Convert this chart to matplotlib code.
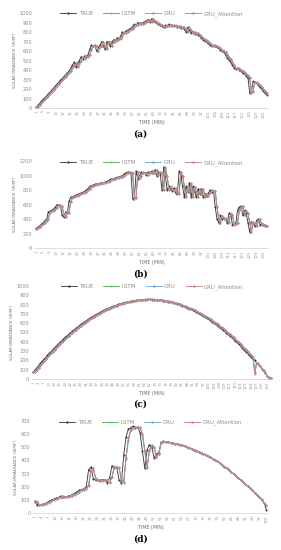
import numpy as np
import matplotlib
matplotlib.use("Agg")
import matplotlib.pyplot as plt

# ---- panel (a) ----
a_true = [10, 30, 50, 70, 90, 110, 130, 150, 170, 190,
          210, 230, 250, 270, 290, 310, 330, 350, 370, 390,
          420, 450, 480, 430, 470, 500, 540, 520, 550, 540,
          560, 620, 660, 650, 660, 600, 640, 660, 700, 650,
          620, 700, 690, 650, 700, 720, 710, 740, 730, 760,
          800, 790, 810, 820, 830, 840, 860, 880, 870, 900,
          890, 880, 900, 910, 920, 930, 910, 940, 920, 910,
          900, 880, 870, 860, 850, 870, 860, 880, 870, 860,
          870, 860, 850, 860, 840, 850, 830, 800, 850, 820,
          790, 800, 780, 790, 770, 760, 740, 720, 710, 700,
          680, 660, 650, 660, 650, 640, 630, 610, 600, 590,
          560, 530, 510, 480, 450, 420, 410, 420, 400, 390,
          370, 360, 340, 320, 160, 170, 280, 270, 260, 240,
          220, 200, 180, 160, 140]
a_lstm = [12, 15, 35, 55, 72, 92, 112, 132, 152, 172,
          192, 212, 232, 252, 272, 292, 312, 332, 352, 372,
          392, 418, 448, 470, 440, 472, 498, 535, 522, 548,
          542, 562, 615, 655, 648, 655, 605, 640, 655, 695,
          648, 625, 695, 688, 655, 698, 718, 712, 738, 732,
          758, 795, 790, 808, 818, 828, 838, 858, 876, 870,
          896, 888, 882, 898, 908, 918, 926, 912, 936, 918,
          908, 898, 880, 870, 860, 852, 868, 860, 876, 868,
          860, 868, 858, 850, 858, 842, 848, 830, 805, 846,
          820, 792, 798, 782, 788, 770, 758, 740, 722, 710,
          700, 680, 662, 652, 658, 650, 640, 630, 612, 600,
          590, 562, 532, 512, 482, 452, 424, 412, 418, 402,
          390, 372, 360, 342, 318, 170, 175, 275, 268, 258,
          238, 218, 198, 178, 160]
a_gru = [14, 18, 38, 58, 75, 95, 115, 135, 155, 175,
         195, 215, 235, 255, 275, 295, 315, 335, 355, 375,
         395, 420, 445, 472, 445, 468, 495, 532, 525, 545,
         545, 560, 612, 652, 650, 652, 610, 638, 652, 692,
         650, 628, 692, 690, 658, 695, 715, 714, 735, 735,
         755, 792, 792, 805, 815, 825, 835, 855, 874, 872,
         892, 890, 884, 895, 905, 915, 924, 914, 932, 920,
         910, 900, 882, 872, 862, 854, 865, 862, 874, 870,
         862, 866, 860, 852, 856, 844, 846, 832, 808, 842,
         822, 795, 796, 784, 786, 772, 760, 742, 724, 712,
         702, 682, 664, 654, 656, 651, 641, 631, 614, 602,
         592, 565, 535, 514, 485, 455, 426, 414, 416, 404,
         392, 374, 362, 344, 322, 175, 178, 272, 266, 256,
         240, 220, 200, 180, 162]
a_att = [10, 14, 32, 52, 71, 91, 111, 131, 151, 171,
         191, 211, 231, 251, 271, 291, 311, 331, 351, 371,
         391, 421, 450, 476, 435, 470, 500, 538, 520, 550,
         540, 561, 618, 658, 650, 658, 600, 642, 658, 698,
         650, 620, 698, 690, 652, 700, 720, 710, 740, 730,
         760, 798, 790, 810, 820, 830, 840, 860, 878, 870,
         898, 890, 880, 900, 910, 920, 928, 910, 938, 920,
         910, 900, 880, 870, 860, 850, 870, 860, 878, 870,
         860, 870, 860, 850, 860, 840, 850, 830, 800, 848,
         820, 790, 800, 780, 790, 770, 760, 740, 720, 710,
         700, 680, 660, 650, 660, 650, 640, 630, 610, 600,
         590, 560, 530, 510, 480, 450, 420, 410, 420, 400,
         390, 370, 360, 340, 320, 162, 172, 278, 270, 260,
         240, 220, 200, 180, 158]

# ---- panel (b) ----
b_true = [270, 290, 310, 330, 350, 380, 400, 500, 510, 520,
          540, 560, 600, 590, 580, 450, 430, 500, 480, 650,
          700, 710, 720, 730, 740, 750, 760, 770, 780, 800,
          820, 850, 860, 870, 880, 885, 890, 895, 900, 905,
          910, 920, 930, 950, 955, 960, 970, 975, 980, 990,
          1000, 1020, 1040, 1050, 1045, 1040, 680, 690, 1060, 960,
          1000, 1050, 1030, 1040, 1010, 1050, 1030, 1060, 1040, 1080,
          1000, 1050, 1040, 800, 1120, 1000, 800, 850, 820, 790,
          830, 760, 750, 1060, 1000, 850, 700, 850, 780, 900,
          700, 850, 780, 700, 820, 750, 820, 700, 750, 720,
          760, 800, 780, 790, 560, 400, 350, 450, 400, 410,
          400, 350, 480, 460, 320, 330, 350, 530, 560, 580,
          450, 520, 480, 350, 220, 360, 340, 300, 380, 400,
          320, 330, 320, 310, 300]
b_lstm = [265, 275, 292, 312, 332, 352, 382, 405, 495, 508,
          520, 540, 560, 598, 588, 575, 455, 435, 495, 485,
          645, 698, 708, 718, 728, 738, 748, 758, 768, 778,
          798, 818, 848, 858, 868, 878, 884, 888, 894, 898,
          904, 910, 920, 930, 948, 954, 960, 968, 974, 980,
          988, 998, 1018, 1038, 1048, 1044, 1035, 690, 695, 1050,
          965, 1000, 1045, 1030, 1038, 1012, 1048, 1030, 1058, 1040,
          1075, 1005, 1048, 1038, 810, 1110, 1000, 808, 848, 820,
          792, 826, 765, 755, 1050, 998, 850, 708, 846, 782,
          895, 706, 846, 780, 705, 816, 752, 816, 705, 748,
          722, 758, 798, 780, 788, 565, 405, 355, 445, 402,
          408, 400, 355, 476, 458, 325, 332, 350, 525, 558,
          575, 455, 516, 478, 355, 228, 355, 340, 305, 376,
          398, 325, 330, 320, 310]
b_gru = [268, 278, 295, 315, 335, 355, 385, 408, 490, 505,
         518, 538, 558, 595, 585, 572, 460, 440, 492, 488,
         640, 695, 705, 715, 725, 735, 745, 755, 765, 775,
         795, 815, 845, 855, 865, 875, 882, 886, 892, 896,
         902, 908, 918, 928, 945, 952, 958, 966, 972, 978,
         986, 996, 1016, 1035, 1046, 1042, 1030, 700, 700, 1045,
         970, 998, 1042, 1030, 1036, 1014, 1046, 1030, 1055, 1040,
         1070, 1010, 1046, 1036, 820, 1100, 1000, 815, 846, 820,
         795, 822, 770, 760, 1040, 996, 850, 715, 842, 785,
         890, 712, 842, 782, 710, 812, 755, 812, 710, 746,
         724, 756, 796, 780, 786, 570, 410, 360, 440, 404,
         406, 400, 360, 472, 456, 330, 334, 350, 520, 556,
         570, 460, 512, 476, 360, 235, 350, 340, 310, 372,
         396, 328, 330, 320, 310]
b_att = [262, 272, 290, 310, 330, 350, 380, 402, 498, 510,
         520, 540, 560, 600, 590, 578, 452, 432, 498, 482,
         648, 700, 710, 720, 730, 740, 750, 760, 770, 780,
         800, 820, 850, 860, 870, 880, 885, 890, 895, 900,
         905, 910, 920, 930, 950, 955, 960, 970, 975, 980,
         990, 1000, 1020, 1040, 1050, 1045, 1038, 684, 692, 1055,
         962, 1000, 1048, 1030, 1040, 1010, 1050, 1030, 1060, 1040,
         1078, 1002, 1050, 1040, 805, 1115, 1000, 804, 850, 820,
         790, 828, 762, 752, 1055, 1000, 850, 704, 848, 780,
         898, 702, 848, 780, 702, 818, 750, 818, 702, 750,
         720, 760, 800, 780, 790, 562, 402, 352, 448, 400,
         410, 400, 352, 478, 460, 322, 330, 350, 528, 560,
         578, 452, 518, 480, 352, 224, 358, 340, 302, 378,
         400, 322, 330, 320, 310]

# ---- panel (c) ----
c_true = [73, 97, 121, 144, 167, 189, 211, 233, 254, 275,
          295, 316, 335, 355, 374, 393, 411, 429, 446, 464,
          480, 497, 513, 529, 544, 559, 574, 588, 602, 615,
          628, 641, 654, 666, 677, 688, 699, 710, 720, 730,
          739, 748, 757, 765, 773, 781, 788, 795, 802, 808,
          813, 819, 824, 828, 833, 836, 840, 843, 846, 848,
          850, 852, 853, 854, 855, 855, 855, 854, 853, 852,
          850, 848, 846, 843, 840, 836, 833, 828, 824, 819,
          813, 808, 802, 795, 788, 781, 773, 765, 757, 748,
          739, 730, 720, 710, 699, 688, 677, 666, 654, 641,
          628, 615, 602, 588, 574, 559, 544, 529, 513, 497,
          480, 464, 446, 429, 411, 393, 374, 355, 335, 316,
          295, 275, 254, 233, 211, 200, 170, 165, 140, 110,
          90, 60, 30, 15, 10]
c_lstm = [78, 80, 99, 122, 145, 168, 190, 212, 234, 255,
          276, 296, 316, 336, 356, 375, 393, 412, 430, 447,
          464, 481, 497, 513, 529, 545, 560, 574, 588, 602,
          616, 629, 642, 654, 666, 677, 689, 700, 710, 721,
          730, 740, 749, 757, 766, 774, 781, 789, 796, 802,
          808, 814, 819, 824, 829, 833, 837, 840, 844, 846,
          849, 851, 852, 854, 855, 855, 856, 855, 854, 852,
          852, 850, 848, 846, 843, 840, 836, 833, 828, 824,
          819, 813, 808, 802, 795, 788, 781, 773, 765, 757,
          748, 739, 730, 720, 710, 699, 688, 677, 666, 654,
          641, 628, 615, 602, 588, 574, 559, 544, 529, 513,
          497, 480, 464, 446, 429, 411, 393, 374, 355, 335,
          316, 295, 275, 254, 233, 60, 175, 168, 142, 112,
          92, 62, 32, 18, 12]
c_gru = [80, 82, 100, 123, 146, 169, 191, 213, 235, 256,
         277, 297, 317, 337, 357, 376, 394, 413, 431, 448,
         465, 482, 498, 514, 530, 546, 561, 575, 589, 603,
         617, 630, 643, 655, 667, 678, 690, 701, 711, 722,
         731, 741, 750, 758, 767, 775, 782, 790, 797, 803,
         809, 815, 820, 825, 830, 834, 838, 841, 845, 847,
         850, 852, 853, 855, 856, 856, 857, 856, 855, 853,
         853, 851, 849, 847, 844, 841, 837, 834, 829, 825,
         820, 814, 809, 803, 796, 789, 782, 774, 766, 758,
         749, 740, 731, 721, 711, 700, 689, 678, 667, 655,
         642, 629, 616, 603, 589, 575, 560, 545, 530, 514,
         498, 481, 465, 447, 430, 412, 394, 375, 356, 336,
         317, 296, 276, 255, 234, 70, 172, 166, 141, 111,
         91, 61, 31, 17, 11]
c_att = [76, 79, 98, 121, 144, 167, 189, 211, 233, 254,
         275, 295, 316, 335, 355, 374, 393, 411, 429, 446,
         464, 480, 497, 513, 529, 544, 559, 574, 588, 602,
         615, 628, 641, 654, 666, 677, 688, 699, 710, 720,
         730, 739, 748, 757, 765, 773, 781, 788, 795, 802,
         808, 813, 819, 824, 828, 833, 836, 840, 843, 846,
         848, 850, 852, 853, 854, 855, 855, 855, 854, 853,
         852, 850, 848, 846, 843, 840, 836, 833, 828, 824,
         819, 813, 808, 802, 795, 788, 781, 773, 765, 757,
         748, 739, 730, 720, 710, 699, 688, 677, 666, 654,
         641, 628, 615, 602, 588, 574, 559, 544, 529, 513,
         497, 480, 464, 446, 429, 411, 393, 374, 355, 335,
         316, 295, 275, 254, 233, 55, 170, 166, 140, 110,
         90, 60, 30, 15, 10]

# ---- panel (d) ----
d_true = [90, 60, 62, 65, 70, 78, 88, 97, 105, 112,
          118, 128, 125, 122, 126, 132, 140, 150, 162, 172,
          178, 185, 200, 330, 350, 260, 250, 255, 245, 255,
          250, 230, 270, 360, 340, 350, 250, 230, 440, 580,
          640, 650, 660, 650, 655, 610, 470, 340, 480, 520,
          500, 420, 450, 460, 540, 545, 543, 540, 537, 533,
          529, 525, 520, 515, 509, 503, 497, 490, 483, 476,
          468, 460, 452, 443, 434, 425, 415, 405, 395, 382,
          368, 354, 340, 326, 312, 298, 283, 268, 252, 236,
          220, 204, 188, 172, 156, 140, 123, 100, 75, 25]
d_lstm = [80, 86, 63, 63, 67, 72, 80, 89, 98, 106,
          113, 119, 127, 125, 123, 127, 133, 141, 151, 162,
          172, 179, 187, 210, 320, 342, 262, 251, 254, 247,
          254, 249, 233, 275, 352, 342, 346, 254, 235, 420,
          560, 632, 646, 654, 650, 650, 600, 475, 350, 475,
          515, 498, 428, 450, 535, 544, 543, 540, 537, 533,
          529, 525, 520, 515, 509, 503, 497, 490, 483, 476,
          468, 460, 452, 443, 434, 425, 415, 405, 395, 382,
          368, 354, 340, 326, 312, 298, 283, 268, 252, 236,
          220, 204, 188, 172, 156, 140, 123, 102, 78, 55]
d_gru = [82, 85, 64, 64, 68, 73, 81, 90, 99, 107,
         114, 120, 127, 125, 124, 128, 134, 142, 152, 163,
         173, 180, 188, 215, 318, 340, 264, 252, 253, 248,
         253, 248, 235, 278, 350, 343, 345, 256, 238, 415,
         555, 630, 645, 653, 650, 648, 598, 478, 355, 472,
         512, 497, 430, 451, 532, 543, 543, 540, 537, 533,
         529, 525, 520, 515, 509, 503, 497, 490, 483, 476,
         468, 460, 452, 443, 434, 425, 415, 405, 395, 382,
         368, 354, 340, 326, 312, 298, 283, 268, 252, 236,
         220, 204, 188, 172, 156, 140, 123, 103, 79, 58]
d_att = [85, 88, 62, 63, 66, 71, 79, 88, 97, 105,
         112, 118, 127, 125, 122, 126, 132, 140, 150, 162,
         172, 178, 186, 205, 325, 345, 262, 250, 254, 246,
         254, 250, 232, 272, 355, 342, 348, 252, 232, 430,
         570, 636, 648, 656, 650, 652, 605, 472, 345, 478,
         518, 500, 424, 450, 538, 545, 543, 540, 537, 533,
         529, 525, 520, 515, 509, 503, 497, 490, 483, 476,
         468, 460, 452, 443, 434, 425, 415, 405, 395, 382,
         368, 354, 340, 326, 312, 298, 283, 268, 252, 236,
         220, 204, 188, 172, 156, 140, 123, 101, 76, 60]

series_names = ["TRUE", "LSTM", "GRU", "GRU_Attention"]
colors = ["#3c3c3c", "#5aa85a", "#6aa8d8", "#c98580"]
markers = ["o", "+", "o", "o"]

panels = [
    ("(a)", [a_true, a_lstm, a_gru, a_att], 1000, 100, 4, [0.125, 0.8036, 0.829, 0.1727]),
    ("(b)", [b_true, b_lstm, b_gru, b_att], 1200, 200, 4, [0.125, 0.549, 0.829, 0.158]),
    ("(c)", [c_true, c_lstm, c_gru, c_att], 1000, 100, 3, [0.114, 0.311, 0.854, 0.169]),
    ("(d)", [d_true, d_lstm, d_gru, d_att], 700, 100, 3, [0.118, 0.0673, 0.836, 0.167]),
]
label_y = [0.748, 0.494, 0.258, 0.012]

fig = plt.figure(figsize=(2.81, 5.50), dpi=100)
fig.patch.set_facecolor("white")

for (tag, data, ymax, ystep, xstep, rect), ly in zip(panels, label_y):
    ax = fig.add_axes(rect)
    n = len(data[0])
    # TRUE first, predictions drawn over it
    for k in [0, 1, 2, 3]:
        vals = data[k]
        x = np.arange(1, len(vals) + 1)
        ax.plot(x, vals, color=colors[k], lw=0.65, marker=markers[k],
                ms=1.0, mew=0.4, label=series_names[k], zorder=2 + k)
    ax.set_xlim(0.3, n + 0.7)
    ax.set_ylim(0, ymax)
    ax.set_yticks(np.arange(0, ymax + 1, ystep))
    ticks = np.arange(1, n + 1, xstep)
    ax.set_xticks(ticks)
    ax.set_xticklabels([str(t) for t in ticks], rotation=90, fontsize=2.8, color="#9a9a9a")
    ax.tick_params(axis="y", labelsize=3.6, colors="#8c8c8c", length=0, pad=2)
    ax.tick_params(axis="x", length=0, pad=1.5)
    for s in ["top", "right", "left"]:
        ax.spines[s].set_visible(False)
    ax.spines["bottom"].set_color("#d0d0d0")
    ax.spines["bottom"].set_linewidth(0.5)
    ax.set_xlabel("TIME (MIN)", fontsize=3.4, color="#707070", labelpad=1.5)
    ax.set_ylabel("SOLAR IRRADIANCE (W/M²)", fontsize=3.0, color="#707070", labelpad=2)
    ax.legend(loc="upper center", bbox_to_anchor=(0.5, 1.07), ncol=4, frameon=False,
              fontsize=3.9, handlelength=3.0, columnspacing=1.8, handletextpad=0.4,
              labelcolor="#8c8c8c", markerscale=1.2)
    fig.text(0.5, ly, tag, ha="center", va="bottom", fontsize=6.5,
             fontweight="bold", family="DejaVu Serif")

fig.savefig("out.png", dpi=100, facecolor="white")
